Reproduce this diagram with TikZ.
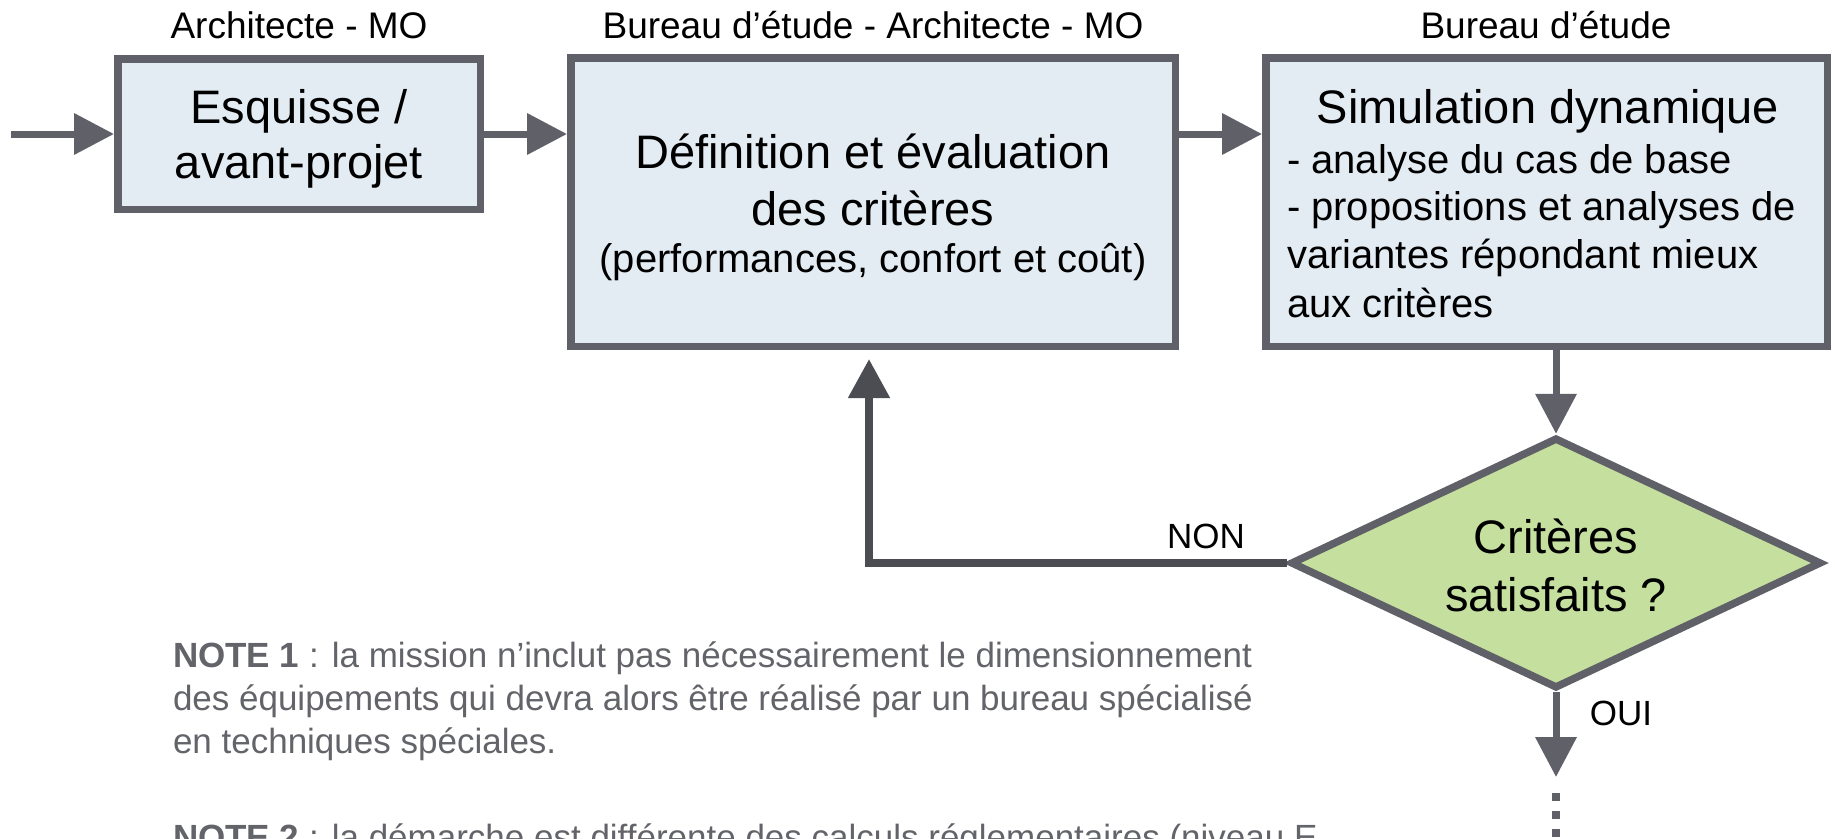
\documentclass[tikz,border=0pt]{standalone}
\usepackage{fontspec}
\setmainfont{Liberation Sans}
\usetikzlibrary{arrows.meta,shapes.geometric,calc}
\definecolor{bord}{HTML}{5F6068}
\definecolor{boxfill}{HTML}{E4ECF3}
\definecolor{diafill}{HTML}{C5DF9E}
\definecolor{nonline}{HTML}{4B4D53}
\definecolor{notegray}{HTML}{636469}
\begin{document}
\begin{tikzpicture}[x=1pt,y=-1pt,
  box/.style={draw=bord, fill=boxfill, line width=7.5pt, inner sep=0pt},
  decision/.style={diamond, draw=bord, fill=diafill, line width=7.5pt, inner sep=0pt,
    minimum width=531pt, minimum height=251pt},
  arr/.style={draw=bord, line width=7pt, -{Triangle[width=40pt,length=40pt]}},
  arrnon/.style={draw=nonline, line width=8pt, -{Triangle[width=40pt,length=39pt]}},
  dots/.style={draw=bord, line width=8pt, dash pattern=on 8pt off 10pt},
  txt/.style={anchor=base, inner sep=0pt, outer sep=0pt},
  txtl/.style={anchor=base west, inner sep=0pt, outer sep=0pt},
  hdr/.style={font=\fontsize{37}{44}\selectfont},
  big/.style={font=\fontsize{47}{56}\selectfont},
  sub/.style={font=\fontsize{40}{48}\selectfont},
  lbl/.style={font=\fontsize{35}{42}\selectfont},
  note/.style={font=\fontsize{35}{43}\selectfont, text=notegray},
]
\useasboundingbox (0,0) rectangle (1835,838);
\clip (0,0) rectangle (1835,838);

% headers
\node[txt,hdr] (h1) at (299,38) {Architecte - MO};
\node[txt,hdr] (h2) at (873,38) {Bureau d’étude - Architecte - MO};
\node[txt,hdr] (h3) at (1546,38) {Bureau d’étude};

% boxes
\node[box, minimum width=362.5pt, minimum height=150.5pt] (esq) at (299,134) {};
\node[box, minimum width=604.5pt, minimum height=288.5pt] (def) at (873,202) {};
\node[box, minimum width=561.5pt, minimum height=288.5pt] (sim) at (1546.5,202) {};
\node[decision] (dia) at (1556,563) {};

% box texts
\node[txt,big] (t1a) at (299,123) {Esquisse /};
\node[txt,big] (t1b) at (299,178) {avant-projet};

\node[txt,big] (t2a) at (873,168) {Définition et évaluation};
\node[txt,big] (t2b) at (873,225) {des critères};
\node[txt,sub] (t2c) at (873,272) {(performances, confort et coût)};

\node[txt,big] (t3a) at (1548,123) {Simulation dynamique};
\node[txtl,sub] (t3b) at (1287,173) {- analyse du cas de base};
\node[txtl,sub] (t3c) at (1287,220) {- propositions et analyses de};
\node[txtl,sub] (t3d) at (1287,268) {variantes répondant mieux};
\node[txtl,sub] (t3e) at (1287,317) {aux critères};

\node[txt,big] (t4a) at (1556,553) {Critères};
\node[txt,big] (t4b) at (1556,611) {satisfaits ?};

% connectors
\coordinate (start) at (11,134);
\draw[arr] (start) -- (esq.west);
\draw[arr] (esq.east) -- (esq.east -| def.west);
\draw[arr] (def.east |- esq.east) -- (sim.west |- esq.east);
\draw[arr] (dia.north |- sim.south) -- (dia.north);
\coordinate (nonend) at (869,359);
\draw[arrnon] (dia.west) -| (nonend);
\coordinate (ouiend) at (1556,777);
\draw[arr] (dia.south) -- (ouiend);
\coordinate (dotA) at (1556,793);
\coordinate (dotB) at (1556,845);
\draw[dots] (dotA) -- (dotB);

% labels
\node[txt,lbl] (non) at (1206,548) {NON};
\node[txt,lbl] (oui) at (1621,725) {OUI};

% notes
\node[txtl,note] (n1) at (173,667) {\textbf{NOTE 1} : la mission n’inclut pas nécessairement le dimensionnement};
\node[txtl,note] (n2) at (173,710) {des équipements qui devra alors être réalisé par un bureau spécialisé};
\node[txtl,note] (n3) at (173,753) {en techniques spéciales.};
\node[txtl,note] (n4) at (173,849) {\textbf{NOTE 2} : la démarche est différente des calculs réglementaires (niveau E};
\end{tikzpicture}
\end{document}
